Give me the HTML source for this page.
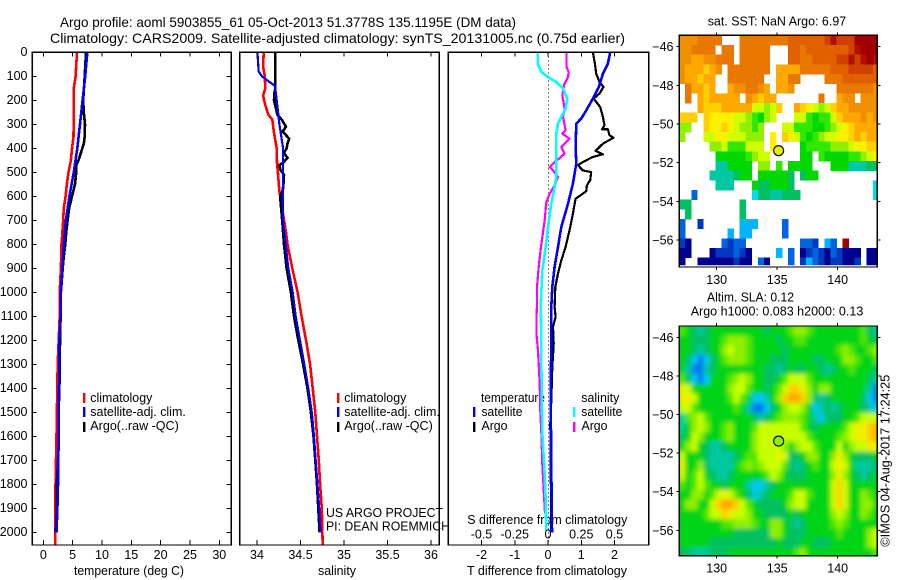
<!DOCTYPE html>
<html>
<head>
<meta charset="utf-8">
<title>Argo profile</title>
<style>
html,body{margin:0;padding:0;background:#fff;}
svg{display:block;font-family:"Liberation Sans",sans-serif;}
text{fill:#000;}
</style>
</head>
<body>
<svg id="chart" width="900" height="580" viewBox="0 0 900 580" xmlns="http://www.w3.org/2000/svg">
<rect x="0" y="0" width="900" height="580" fill="#fff"/>
<defs>
<clipPath id="clipSst"><rect x="679.3" y="35.3" width="198" height="230"/></clipPath>
<clipPath id="clipSla"><rect x="679.3" y="326" width="198" height="229.7"/></clipPath>
<clipPath id="clipP1"><rect x="32.3" y="52.3" width="199" height="492.7"/></clipPath>
<clipPath id="clipP2"><rect x="239.7" y="52.3" width="199.6" height="492.7"/></clipPath>
<clipPath id="clipP3"><rect x="448.3" y="52.3" width="200.4" height="492.7"/></clipPath>
<filter id="slaBlur" filterUnits="userSpaceOnUse" x="640" y="290" width="260" height="290"><feGaussianBlur stdDeviation="2.4"/></filter>
</defs>

<text x="60" y="27" font-size="14" textLength="456" lengthAdjust="spacingAndGlyphs">Argo profile: aoml 5903855_61 05-Oct-2013 51.3778S 135.1195E (DM data)</text>
<text x="50" y="43" font-size="14" textLength="575" lengthAdjust="spacingAndGlyphs">Climatology: CARS2009. Satellite-adjusted climatology: synTS_20131005.nc (0.75d earlier)</text>

<text x="74" y="575" font-size="12.5" textLength="110" lengthAdjust="spacingAndGlyphs">temperature (deg C)</text>
<text x="318" y="575" font-size="12.5" textLength="38" lengthAdjust="spacingAndGlyphs">salinity</text>
<text x="467" y="575" font-size="12.5" textLength="160" lengthAdjust="spacingAndGlyphs">T difference from climatology</text>
<text x="467.3" y="524" font-size="12.5" textLength="160" lengthAdjust="spacingAndGlyphs">S difference from climatology</text>

<g font-size="12.5">
<rect x="83" y="393" width="2.4" height="10" fill="#f00"/>
<rect x="83" y="407" width="2.4" height="10" fill="#00f"/>
<rect x="83" y="422" width="2.4" height="10" fill="#000"/>
<text x="90.3" y="402" textLength="62" lengthAdjust="spacingAndGlyphs">climatology</text>
<text x="90.3" y="416" textLength="95.5" lengthAdjust="spacingAndGlyphs">satellite-adj. clim.</text>
<text x="90.3" y="430" textLength="88.5" lengthAdjust="spacingAndGlyphs">Argo(..raw -QC)</text>
</g>
<g font-size="12.5">
<rect x="337" y="393" width="2.4" height="10" fill="#f00"/>
<rect x="337" y="407" width="2.4" height="10" fill="#00f"/>
<rect x="337" y="422" width="2.4" height="10" fill="#000"/>
<text x="344.3" y="402" textLength="62" lengthAdjust="spacingAndGlyphs">climatology</text>
<text x="344.3" y="416" textLength="95.5" lengthAdjust="spacingAndGlyphs">satellite-adj. clim.</text>
<text x="344.3" y="430" textLength="88.5" lengthAdjust="spacingAndGlyphs">Argo(..raw -QC)</text>
</g>
<g font-size="12.5">
<text x="481" y="402" textLength="64" lengthAdjust="spacingAndGlyphs">temperature</text>
<text x="481.5" y="416" textLength="41" lengthAdjust="spacingAndGlyphs">satellite</text>
<text x="481.5" y="430" textLength="26" lengthAdjust="spacingAndGlyphs">Argo</text>
<rect x="473" y="407" width="2.4" height="10" fill="#00f"/>
<rect x="473" y="422" width="2.4" height="10" fill="#000"/>
<text x="581.3" y="402" textLength="38" lengthAdjust="spacingAndGlyphs">salinity</text>
<text x="581.3" y="416" textLength="41" lengthAdjust="spacingAndGlyphs">satellite</text>
<text x="581.5" y="430" textLength="26" lengthAdjust="spacingAndGlyphs">Argo</text>
<rect x="573" y="407" width="2.4" height="10" fill="#0ff"/>
<rect x="573" y="422" width="2.4" height="10" fill="#f0f"/>
</g>
<text x="326" y="517" font-size="12.5" textLength="117" lengthAdjust="spacingAndGlyphs">US ARGO PROJECT</text>
<text x="326" y="530.7" font-size="12.5" textLength="124" lengthAdjust="spacingAndGlyphs">PI: DEAN ROEMMICH</text>

<text x="707.7" y="25.7" font-size="12.5" textLength="138.5" lengthAdjust="spacingAndGlyphs">sat. SST: NaN Argo: 6.97</text>
<text x="707" y="301.7" font-size="12.5" textLength="87" lengthAdjust="spacingAndGlyphs">Altim. SLA: 0.12</text>
<text x="690.7" y="315.7" font-size="12.5" textLength="172.6" lengthAdjust="spacingAndGlyphs">Argo h1000: 0.083 h2000: 0.13</text>
<text transform="translate(889.5 546.7) rotate(-90)" font-size="12.5" textLength="172" lengthAdjust="spacingAndGlyphs">©IMOS 04-Aug-2017 17:24:25</text>
</svg>

<script>
// ---- axis tick values ----
const depthTicks = [0,100,200,300,400,500,600,700,800,900,1000,1100,1200,1300,1400,1500,1600,1700,1800,1900,2000];
const tempTicks = [0,5,10,15,20,25,30];
const salTicks = [34,34.5,35,35.5,36];
const salTickLabels = ["34","34.5","35","35.5","36"];
const diffTTicks = [-2,-1,0,1,2];
const diffTTickLabels = ["-2","-1","0","1","2"];
const diffSTicks = [-0.5,-0.25,0,0.25,0.5];
const diffSTickLabels = ["-0.5","-0.25","0","0.25","0.5"];
const lonTicks = [130,135,140];
const latTicks = [-46,-48,-50,-52,-54,-56];

// ---- temperature profiles ----
const tempClimDepth = [0,100,150,250,350,400,450,500,550,600,650,700,750,800,900,1000,1100,1300,1600,1850,2055];
const tempClimValue = [5.75,5.5,5.2,5.2,5.15,4.9,4.7,4.3,4.0,3.8,3.5,3.4,3.25,3.1,3.0,2.8,2.8,2.45,2.25,2.05,2.05];
const tempArgoDepth = [0,100,200,250,300,350,380,420,450,470,500,550,600,650,700,750,800,850,900,1000,1100,1200,1350,1500,1650,1800,1900,2000];
const tempArgoValue = [7.27,7.05,6.8,6.9,7.1,7.05,6.9,6.4,6.0,5.6,5.6,5.4,4.9,4.4,4.15,3.9,3.75,3.5,3.3,3.0,2.95,2.85,2.8,2.6,2.6,2.3,2.3,2.15];
const tempSatDepth = [0,100,200,300,400,500,600,700,800,900,1000,1100,1200,1300,1500,1650,1700,1800,1900,2000];
const tempSatValue = [7.5,7.15,6.7,6.25,5.8,5.2,4.45,3.85,3.5,3.25,3.0,2.95,2.75,2.75,2.6,2.6,2.5,2.5,2.4,2.25];

// ---- salinity profiles ----
const salClimDepth = [0,60,100,150,180,220,260,280,320,360,400,460,500,580,750,800,900,1000,1100,1200,1300,1400,1500,1600,1700,1800,1900,2055];
const salClimValue = [34.077,34.07,34.09,34.095,34.07,34.095,34.13,34.176,34.19,34.207,34.226,34.23,34.24,34.257,34.333,34.35,34.406,34.467,34.513,34.563,34.61,34.64,34.67,34.69,34.71,34.725,34.745,34.755];
const salArgoDepth = [0,100,150,170,200,230,260,280,310,330,360,380,400,420,440,460,470,490,510,570,600,700,800,900,1000,1100,1200,1300,1400,1500,1600,1700,1800,1900,2000];
const salArgoValue = [34.21,34.21,34.21,34.2,34.195,34.215,34.234,34.283,34.333,34.295,34.37,34.35,34.34,34.31,34.35,34.3,34.257,34.27,34.31,34.3,34.265,34.29,34.31,34.34,34.39,34.425,34.475,34.53,34.58,34.62,34.65,34.67,34.69,34.705,34.72];
const salSatDepth = [0,80,100,120,140,200,300,400,500,600,700,800,900,1000,1100,1200,1300,1400,1500,1600,1700,1800,1900,2000];
const salSatValue = [34.005,34.02,34.055,34.13,34.207,34.226,34.257,34.3,34.3,34.295,34.3,34.33,34.36,34.41,34.445,34.494,34.544,34.59,34.63,34.655,34.675,34.695,34.715,34.73];

// ---- difference profiles ----
const diffTArgoDepth = [0,47,89,124,144,172,193,228,269,304,321,321,346,356,381,411,425,436,457,471,492,499,533,554,579,610,672,728,811,867,922,978,1061,1103,1144,1214,1311,1450,1547,2000];
const diffTArgoValue = [1.35,1.41,1.45,1.55,1.67,1.55,1.37,1.57,1.65,1.70,1.63,1.80,1.85,1.97,1.65,1.43,1.65,1.35,1.05,0.90,1.05,1.30,1.27,1.17,1.15,0.83,0.75,0.67,0.53,0.40,0.30,0.22,0.20,0.23,0.15,0.17,0.13,0.10,0.07,0.10];
const diffTSatDepth = [0,47,89,144,193,242,276,297,394,464,547,631,728,811,894,978,1061,1172,1450,1728,2000];
const diffTSatValue = [1.87,1.80,1.65,1.53,1.35,1.15,1.0,0.85,0.83,0.85,0.75,0.60,0.40,0.30,0.20,0.13,0.10,0.10,0.08,0.10,0.12];
const diffSSatDepth = [0,47,82,103,124,151,193,235,269,297,339,436,519,575,631,728,811,908,1061,1103,1311,1589,1728,1867,1992];
const diffSSatValue = [-0.0775,-0.0775,-0.05,0,0.0625,0.1125,0.145,0.1325,0.10,0.075,0.0625,0.0625,0.0625,0.045,0.025,0,-0.0175,-0.0425,-0.055,-0.0525,-0.05,-0.0425,-0.0275,-0.0175,-0.0125];
const diffSArgoDepth = [0,61,82,103,137,179,235,269,325,339,360,394,422,443,457,478,492,519,554,589,624,700,797,881,978,1061,1075,1172,1242,1380,1506,1589,1714,1825,1922];
const diffSArgoValue = [0.14,0.14,0.155,0.15,0.12,0.1075,0.125,0.1125,0.1325,0.1075,0.1625,0.10,0.125,0.0825,0.05,0.0125,0.0375,0.075,0.05,0.0125,-0.0125,-0.025,-0.05,-0.0675,-0.0825,-0.0825,-0.085,-0.0875,-0.075,-0.0625,-0.0575,-0.05,-0.0425,-0.0325,-0.0225];

// ---- maps: one character per 0.5 deg cell, '.' = no data ----
const sstPalette = {a:"#000090",b:"#0038c0",c:"#0064e0",d:"#00b4ff",e:"#00dcf0",f:"#00c8a0",g:"#00c060",h:"#00d800",i:"#30e800",j:"#90f000",k:"#d0ff00",l:"#fff000",m:"#ffd000",n:"#ffa800",o:"#f09000",p:"#e87800",q:"#e06000",r:"#d04000",s:"#b01000",t:"#a00000"};
const sstRows = [
"ooopp pp... ppppp pppqq qqqqr srrrt ttt",
"ooppp p.pp. ppppp ...qq pqqqq qqqrs ttt",
"oonno oppp. ppppp ...qq ppqqq qrrsr sts",
"onnnm no.pp ppppp .nnnn ppppp qqqrr rrq",
"onnmn n..pp pppp. .nnpp ....p ppqqq qqq",
".pnnm n..no oppon .nno. ..... .pppp ppo",
".p.nm nnnnn .onmn n.... ...p. .noo. ooo",
"...nm mmnnn nnkkj km..n mlkjk mnnoo ooo",
"mmm.m llllk kjihj k...k kihii kmnnn ono",
"jj..m llmlk jjij. ..kki iihhi jklmn nnn",
"j...k kllkk kjjj. l.mlk ihijk kllmn mnn",
"..... jjkii ikkk. l.... hiiii jjjkl lmm",
"..... .hhhh hijkk ..... hh.ih hhhii jkl",
"..... .ffhh hh.jj .i.hh hh... hhhff fgg",
"..... ffffg hh.hh hhhg. ghh.. ..... ...",
"..... .fff. ..hgg hhhg. ..... ..... ..e",
"..c.. ..... ..egg ffggg ..... ..... ..e",
"gg... ..... g.... ..... ..... ..... ...",
".g... ..... g.... ..... ..... ..... ...",
"c..b. ..... ddd.. ..c.. ..... ..... ...",
"c.... ...d. dd... ..c.. ..... ..... ...",
"ba... ..cbc c.... ..... ccb.d c.t.. ...",
"aa... abbbc ba... .d.c. abcba cbaaa .aa",
"a..aa aaaab aa.ca ...c. bdcba bbaab .aa"
];
const slaPalette = {A:"#0078f0",B:"#00c8f0",C:"#00c8a0",D:"#00c060",E:"#00d418",F:"#50e800",G:"#90f000",H:"#c8ff00",I:"#f0f000",J:"#ffd000",K:"#ffa800"};
const slaRows = [
"FEDCD EEEEE EEEED EEEFG GFEEE EEEEE FDC",
"EEDDD EEFGG GFEEE EDEEF FEEEE EEEEE FED",
"EEDCD EEGHG GFEEE EEDEE EEEEE EFGFE EFG",
"EDBAB DEFGG GFEEE DDDEE EEDDE EEGGF EEF",
"ECAAC DEEEE EEEED DCDED DEEDC DEEFE EED",
"FDBAB EEEFG HGEED DEFHH HFEEE EEEEE EDC",
"IHEEE EEEGH HFEED EFHJJ IGEGG EEEEE ECA",
"IIHEE EEEFH FEBBC EGJKK JGDCD EEEEE DBA",
"HHFEE EEEEF ECAAB DEGHH GEBCD CDEEE DCB",
"CFGHF EEEEE EEDCD EFGGG FECBD DDEEF HHH",
"CEGHG EEFGE EEFHH HHHHH FEDEE EEFHI IJK",
"DEHGE EEFGE EEGHH HHHHH HFEEE EFGHI IJK",
"EGHED CCDEE EEGHH HHGEG HHFEE EHEGH HII",
"HEEED CCCCD EFFHH HIHDD EGGEE GIGED DDE",
"IEEGD CCCCE FGFGH HHFDC DEFEE HIHEC CCD",
"HEFHE DCCDE EEEEF HGEDD DEEEE GIGED CDE",
"FEFHF EEDEE ECBBC DEEEE EEEEE HJHEE EEE",
"EEGGE FHIHF EDBCD EEEFH HFEEE HJHEE GFE",
"EGGEE HJKKJ HFEDD DDEGH HEEEE HJHEE GGE",
"EEEEF HHJIH HGEED DDDED EEEEE GHGEE GFE",
"EEEEE EEFFG GGFEE GGEDC DEEEE FGFEE EEE",
"EEEEE EEEED DDDDD GGEDD DEEEE EFEEE EGH",
"EEEEE DDDDD DDDDD DEDDD EEDDD EEEEE EGH",
"DDCCC DDDEE EEEEE EEEEF GEEEE EEEEE EEF"
];
const floatLon = 135.1195;
const floatLat = -51.3778;

// ---- axis functions ----
const NS = "http://www.w3.org/2000/svg";
const root = document.getElementById("chart");
const yDepth = d => 52.3 + 0.24 * d;
const xTemp = t => 43.3 + 5.867 * t;
const xSal = s => 257 + 87 * (s - 34);
const xDiffT = t => 548 + 33.25 * t;
const xDiffS = s => 548 + 133 * s;
const xLon = lon => 716.7 + 12.1 * (lon - 130);
const ySst = lat => 46.7 + 19.33 * (-46 - lat);
const ySla = lat => 337.3 + 19.3 * (-46 - lat);

function mk(tag, attrs, parent) {
  const el = document.createElementNS(NS, tag);
  for (const k in attrs) el.setAttribute(k, attrs[k]);
  (parent || root).appendChild(el);
  return el;
}
function seg(parent, x1, y1, x2, y2, name) {
  const el = mk("line", {x1: x1, y1: y1, x2: x2, y2: y2, stroke: "#000", "stroke-width": 1, "shape-rendering": "crispEdges"}, parent);
  
  
  return el;
}
function label(parent, x, y, str, anchor, name) {
  const el = mk("text", {x: x, y: y, "font-size": 12.5, "text-anchor": anchor}, parent);
  el.textContent = str;
  
  
  return el;
}
function box(parent, x, y, w, h, name) {
  const el = mk("rect", {x: x, y: y, width: w, height: h, fill: "none", stroke: "#000", "stroke-width": 1.2, "shape-rendering": "crispEdges"}, parent);
  
  
  return el;
}
function profile(parent, depths, values, xf, color, name, width) {
  const pts = depths.map((d, i) => xf(values[i]).toFixed(1) + "," + yDepth(d).toFixed(1)).join(" ");
  const el = mk("polyline", {points: pts, fill: "none", stroke: color, "stroke-width": width || 2.6, "shape-rendering": "crispEdges", "stroke-linejoin": "round"}, parent);
  
  
  return el;
}
function panel(name, clipId, left, right) {
  const g = mk("g", {});
  
  
  const series = mk("g", {"clip-path": "url(#" + clipId + ")"}, g);
  
  
  box(g, left, 52.3, right - left, 492.7, name + '-frame');
  return {g: g, series: series};
}

// ---- temperature panel ----
const p1 = panel("temperature-panel", "clipP1", 32.3, 231.3);
profile(p1.series, tempClimDepth, tempClimValue, xTemp, "#f00", "temperature-climatology-line");
profile(p1.series, tempArgoDepth, tempArgoValue, xTemp, "#000", "temperature-argo-line");
profile(p1.series, tempSatDepth, tempSatValue, xTemp, "#00f", "temperature-satellite-line");
depthTicks.forEach(d => {
  seg(p1.g, 32.3, yDepth(d), 36.3, yDepth(d), "depth-tick-left");
  seg(p1.g, 226.3, yDepth(d), 231.3, yDepth(d), "depth-tick-right");
  label(p1.g, 27.5, yDepth(d) + 3.5, String(d), "end", "depth-tick-label");
});
tempTicks.forEach(t => {
  seg(p1.g, xTemp(t), 52.3, xTemp(t), 56.3, "temperature-tick-top");
  seg(p1.g, xTemp(t), 540, xTemp(t), 545, "temperature-tick-bottom");
  label(p1.g, xTemp(t), 559, String(t), "middle", "temperature-tick-label");
});

// ---- salinity panel ----
const p2 = panel("salinity-panel", "clipP2", 239.7, 439.3);
profile(p2.series, salClimDepth, salClimValue, xSal, "#f00", "salinity-climatology-line");
profile(p2.series, salArgoDepth, salArgoValue, xSal, "#000", "salinity-argo-line");
profile(p2.series, salSatDepth, salSatValue, xSal, "#00f", "salinity-satellite-line", 2.2);
salTicks.forEach((s, i) => {
  seg(p2.g, xSal(s), 52.3, xSal(s), 56.3, "salinity-tick-top");
  seg(p2.g, xSal(s), 540, xSal(s), 545, "salinity-tick-bottom");
  label(p2.g, xSal(s), 559, salTickLabels[i], "middle", "salinity-tick-label");
});

// ---- difference panel ----
const p3 = panel("difference-panel", "clipP3", 448.3, 648.7);
const zeroLine = mk("line", {x1: xDiffT(0) + 0.5, y1: 52.3, x2: xDiffT(0) + 0.5, y2: 545, stroke: "#000", "stroke-width": 1, "stroke-dasharray": "1 3", "shape-rendering": "crispEdges"}, p3.series);


profile(p3.series, diffTArgoDepth, diffTArgoValue, xDiffT, "#000", "t-difference-argo-line", 2.2);
profile(p3.series, diffTSatDepth, diffTSatValue, xDiffT, "#00f", "t-difference-satellite-line");
profile(p3.series, diffSArgoDepth, diffSArgoValue, xDiffS, "#f0f", "s-difference-argo-line", 2.2);
profile(p3.series, diffSSatDepth, diffSSatValue, xDiffS, "#0ff", "s-difference-satellite-line");
diffTTicks.forEach((t, i) => {
  seg(p3.g, xDiffT(t), 52.3, xDiffT(t), 56.3, "t-difference-tick-top");
  seg(p3.g, xDiffT(t), 540, xDiffT(t), 545, "t-difference-tick-bottom");
  label(p3.g, xDiffT(t), 559, diffTTickLabels[i], "middle", "t-difference-tick-label");
});
diffSTicks.forEach((s, i) => {
  label(p3.g, xDiffS(s), 538.7, diffSTickLabels[i], "middle", "s-difference-tick-label");
});

// ---- maps ----
function mapPanel(name, rows, palette, yLat, clipId, top, bottom, markerFill, blur) {
  const g = mk("g", {});
  
  
  const clip = mk("g", {"clip-path": "url(#" + clipId + ")"}, g);
  const cells = mk("g", blur ? {filter: "url(#slaBlur)"} : {}, clip);
  
  
  if (blur) {
    mk("rect", {x: 650, y: top - 25, width: 250, height: bottom - top + 50, fill: palette.E}, cells);
  }
  const lon0 = 126.9, lat0 = -45.41, step = 0.5;
  rows.forEach((rowStr, r) => {
    const row = rowStr.replace(/ /g, "");
    for (let c = 0; c < row.length; c++) {
      const ch = row[c];
      if (ch === ".") continue;
      const x0 = xLon(lon0 + c * step), x1 = xLon(lon0 + (c + 1) * step);
      const y0 = yLat(lat0 - r * step), y1 = yLat(lat0 - (r + 1) * step);
      const cell = mk("rect", {x: x0.toFixed(1), y: y0.toFixed(1), width: (x1 - x0 + 0.3).toFixed(1), height: (y1 - y0 + 0.3).toFixed(1), fill: palette[ch], "shape-rendering": "crispEdges"}, cells);
      
      
    }
  });
  const marker = mk("circle", {cx: xLon(floatLon), cy: yLat(floatLat), r: 5, fill: markerFill, stroke: "#000", "stroke-width": 1.1}, g);
  
  
  box(g, 679.3, top, 198, bottom - top, name + '-frame');
  lonTicks.forEach(lon => {
    seg(g, xLon(lon), top - 3, xLon(lon), top, "longitude-tick-top");
    seg(g, xLon(lon), bottom, xLon(lon), bottom + 3, "longitude-tick-bottom");
    label(g, xLon(lon), bottom + 17, String(lon), "middle", "longitude-tick-label");
  });
  latTicks.forEach(lat => {
    seg(g, 676.3, yLat(lat), 679.3, yLat(lat), "latitude-tick-left");
    seg(g, 877.3, yLat(lat), 880.3, yLat(lat), "latitude-tick-right");
    label(g, 673.5, yLat(lat) + 4.5, "\u2212" + Math.abs(lat), "end", "latitude-tick-label");
  });
}
mapPanel("sst-map", sstRows, sstPalette, ySst, "clipSst", 35.3, 267, "#e0f000", false);
mapPanel("sla-map", slaRows, slaPalette, ySla, "clipSla", 326, 555.7, "#90f000", true);
</script>
</body>
</html>
